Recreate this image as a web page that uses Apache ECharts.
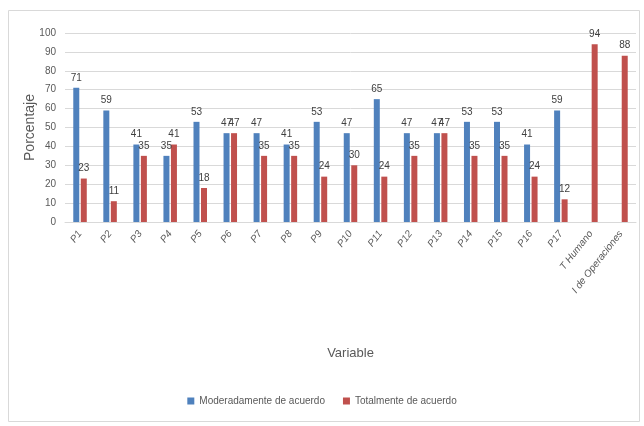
<!DOCTYPE html>
<html>
<head>
<meta charset="utf-8">
<script src="https://cdn.jsdelivr.net/npm/echarts@6/dist/echarts.min.js"></script>
<style>
  html, body { margin: 0; padding: 0; background: #fff; }
  #chart { width: 644px; height: 426px; }
</style>
</head>
<body>
<div id="chart"></div>
<script>
const categories = ['P1', 'P2', 'P3', 'P4', 'P5', 'P6', 'P7', 'P8', 'P9', 'P10', 'P11', 'P12', 'P13', 'P14', 'P15', 'P16', 'P17', 'T Humano', 'I de Operaciones'];
const moderadamente = [71, 59, 41, 35, 53, 47, 47, 41, 53, 47, 65, 47, 47, 53, 53, 41, 59, null, null];
const totalmente = [23, 11, 35, 41, 18, 47, 35, 35, 24, 30, 24, 35, 47, 35, 35, 24, 12, 94, 88];

const font = "'Liberation Sans Narrow', 'Liberation Sans', sans-serif";
const txt = '#595959';

const chart = echarts.init(document.getElementById('chart'));
chart.setOption({
  animation: false,
  textStyle: { fontFamily: font },
  graphic: [{
    type: 'rect',
    shape: { x: 8.5, y: 10.5, width: 631, height: 411 },
    style: { fill: 'none', stroke: '#d9d9d9', lineWidth: 1 }
  }],
  grid: { left: 65, right: 8, top: 33, bottom: 204 },
  legend: {
    bottom: 15,
    left: 'center',
    itemWidth: 7,
    itemHeight: 7,
    itemGap: 18,
    icon: 'rect',
    textStyle: { fontFamily: font, fontSize: 10, color: txt }
  },
  xAxis: {
    type: 'category',
    data: categories,
    name: 'Variable',
    nameLocation: 'middle',
    nameGap: 125,
    nameTextStyle: { fontFamily: font, fontSize: 13, color: txt },
    axisLine: { lineStyle: { color: '#d9d9d9' } },
    axisTick: { show: false },
    axisLabel: { rotate: 52, interval: 0, fontSize: 10, color: txt, fontStyle: 'italic', margin: 10 }
  },
  yAxis: {
    type: 'value',
    min: 0,
    max: 100,
    interval: 10,
    name: 'Porcentaje',
    nameLocation: 'middle',
    nameGap: 28,
    nameMoveOverlap: false,
    nameTextStyle: { fontFamily: font, fontSize: 14, color: txt },
    axisLine: { show: false },
    axisTick: { show: false },
    axisLabel: { fontSize: 10, color: txt, margin: 9 },
    splitLine: { lineStyle: { color: '#d9d9d9' } }
  },
  series: [
    {
      name: 'Moderadamente de acuerdo',
      type: 'bar',
      data: moderadamente,
      barWidth: 6,
      barGap: '25%',
      itemStyle: { color: '#4f81bd' },
      label: { show: true, position: 'top', fontSize: 10, color: '#404040', distance: 5 }
    },
    {
      name: 'Totalmente de acuerdo',
      type: 'bar',
      data: totalmente,
      barWidth: 6,
      barGap: '25%',
      itemStyle: { color: '#c0504d' },
      label: { show: true, position: 'top', fontSize: 10, color: '#404040', distance: 5 }
    }
  ]
});
</script>
</body>
</html>
